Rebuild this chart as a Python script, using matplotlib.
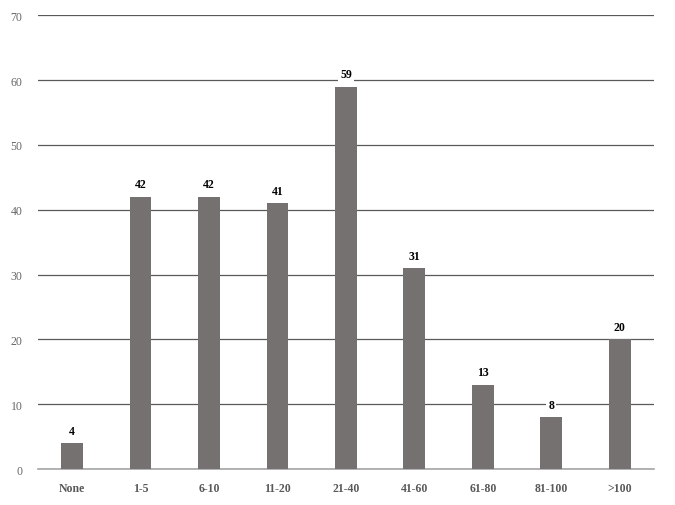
import matplotlib.pyplot as plt

categories = ["None", "1-5", "6-10", "11-20", "21-40", "41-60", "61-80", "81-100", ">100"]
counts = [4, 42, 42, 41, 59, 31, 13, 8, 20]

plt.rcParams['font.family'] = ['Liberation Serif', 'DejaVu Serif']

fig = plt.figure(figsize=(6.75, 5.06), dpi=100)
ax = fig.add_axes([0.056, 0.071, 0.913, 0.897])

x = range(len(categories))
ax.bar(x, counts, width=0.32, color='#767171', zorder=3)

for xi, v in zip(x, counts):
    ax.text(xi, v + 1.0, str(v), ha='center', va='bottom', fontsize=8.5,
            fontweight='bold', color='black', zorder=4,
            bbox=dict(facecolor='white', edgecolor='none', pad=1.5))

ax.set_xlim(-0.5, len(categories) - 0.5)
ax.set_ylim(0, 70)
ax.set_yticks(range(0, 71, 10))
ax.yaxis.grid(True, color='#595959', linewidth=0.9, zorder=0)
ax.set_xticks(list(x))
ax.set_xticklabels(categories, fontweight='bold', color='#595959', fontsize=8.5)
ax.tick_params(axis='y', colors='#666666', labelsize=8.5, length=0, pad=11)
ax.tick_params(axis='x', length=0, pad=9)
for s in ['top', 'right', 'left']:
    ax.spines[s].set_visible(False)
ax.spines['bottom'].set_color('#a6a6a6')
ax.spines['bottom'].set_linewidth(1.2)

fig.savefig('out.png', dpi=100)
